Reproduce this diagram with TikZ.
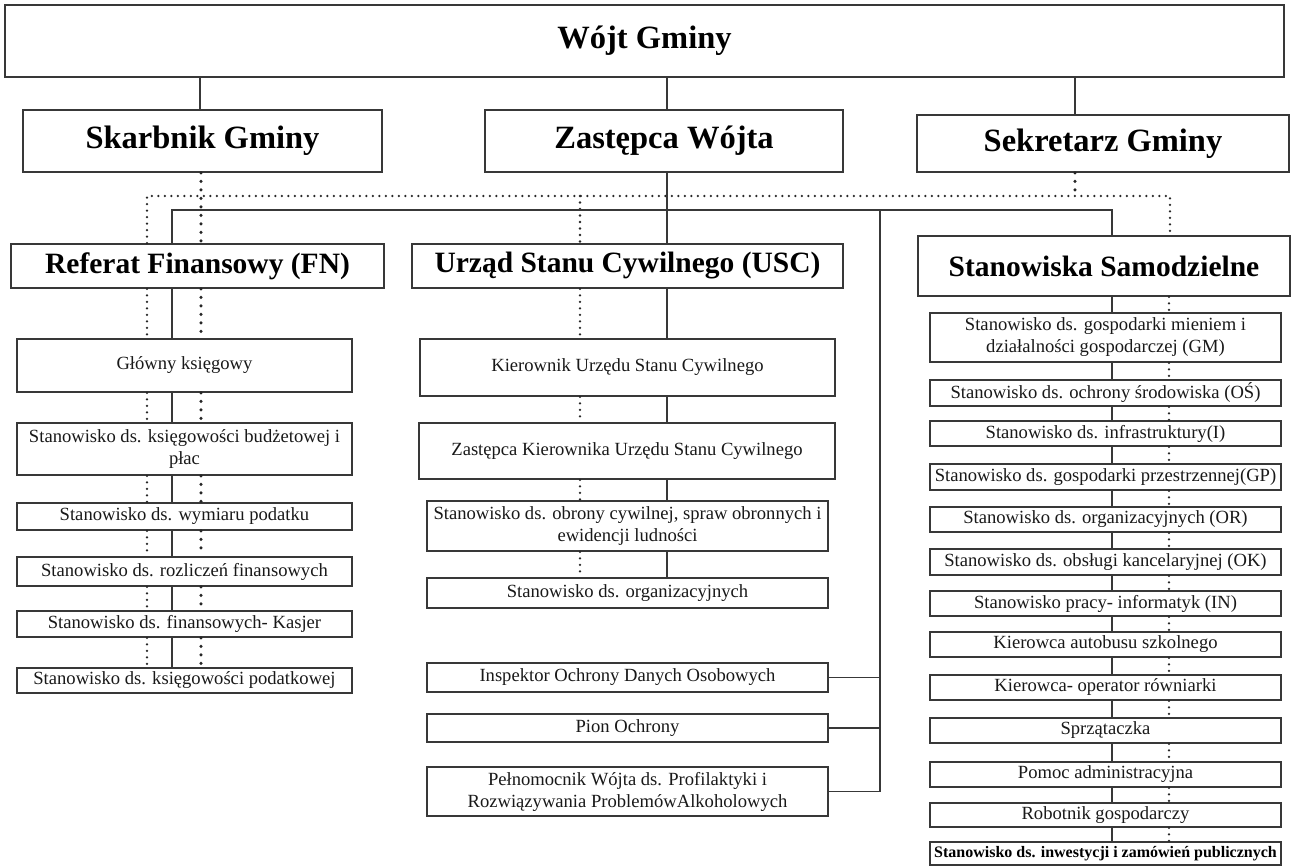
\documentclass[tikz,border=0pt]{standalone}
\usepackage{fontspec}
\setmainfont{Liberation Serif}
\newcommand\bx[7]{\node[#1, minimum width={#5-#3}, minimum height={#6-#4}] (#2) at ({(#3+#5)/2},{(#4+#6)/2}) {#7};}
\tikzset{
  box/.style={draw=black!78, line width=1.8pt, fill=white, inner sep=0pt, align=center, text=black!90},
  lvlA/.style={box, font=\fontsize{32.5}{36}\selectfont\bfseries, text=black},
  lvlB/.style={box, font=\fontsize{29.5}{34}\selectfont\bfseries, text=black},
  small/.style={box, font=\fontsize{18.6}{22}\selectfont},
  smallbold/.style={box, font=\fontsize{16}{19}\selectfont\bfseries, text=black},
  conn/.style={draw=black!78, line width=1.7pt},
  dots/.style={draw=black!85, line width=2.6pt, line cap=round, dash pattern=on 0pt off 6.5pt},
  bigdots/.style={draw=black!85, line width=3.4pt, line cap=round, dash pattern=on 0pt off 8.5pt},
}
\begin{document}
\begin{tikzpicture}[x=1pt,y=-1pt]
\useasboundingbox[fill=white] (0,0) rectangle (1294,867);
% x positions of vertical connectors
\coordinate (xK0) at (200,0);
\coordinate (xZ) at (667,0);
\coordinate (xSe) at (1075,0);
\coordinate (xL) at (147,0);
\coordinate (xS) at (172,0);
\coordinate (xK) at (201,0);
\coordinate (xM) at (580,0);
\coordinate (xR) at (1112,0);
\coordinate (xD) at (1169,0);
\coordinate (dl) at (147,196);
\coordinate (dr) at (1170,196);
\coordinate (sl) at (172,210);
\coordinate (sr) at (1112,210);
\coordinate (sv) at (880,210);

% top levels
\bx{lvlA}{wojt}{5}{5}{1284}{77}{Wójt Gminy}
\bx{lvlA}{skarb}{23}{110}{382}{172}{Skarbnik Gminy}
\bx{lvlA}{zast}{485}{110}{843}{172}{Zastępca Wójta}
\bx{lvlA}{sekr}{917}{115}{1289}{172}{Sekretarz Gminy}
\bx{lvlB}{ref}{11}{244}{384}{288}{Referat Finansowy (FN)}
\bx{lvlB}{usc}{412}{244}{843}{288}{Urząd Stanu Cywilnego (USC)}
\bx{lvlB}{ss}{918}{236}{1290}{296}{Stanowiska Samodzielne}

% left column
\bx{small}{glowny}{17}{339}{352}{392}{Główny księgowy}
\bx{small}{budz}{17}{423}{352}{475}{Stanowisko ds. księgowości budżetowej i\\płac}
\bx{small}{wymiar}{17}{503}{352}{530}{Stanowisko ds. wymiaru podatku}
\bx{small}{rozl}{17}{557}{352}{586}{Stanowisko ds. rozliczeń finansowych}
\bx{small}{kasjer}{17}{611}{352}{637}{Stanowisko ds. finansowych- Kasjer}
\bx{small}{podat}{17}{668}{352}{693}{Stanowisko ds. księgowości podatkowej}

% middle column
\bx{small}{kier}{420}{339}{835}{396}{Kierownik Urzędu Stanu Cywilnego}
\bx{small}{zkier}{419}{423}{835}{479}{Zastępca Kierownika Urzędu Stanu Cywilnego}
\bx{small}{obrony}{427}{501}{828}{551}{Stanowisko ds. obrony cywilnej, spraw obronnych i\\ewidencji ludności}
\bx{small}{orgm}{427}{578}{828}{608}{Stanowisko ds. organizacyjnych}
\bx{small}{insp}{427}{663}{828}{692}{Inspektor Ochrony Danych Osobowych}
\bx{small}{pion}{427}{714}{828}{742}{Pion Ochrony}
\bx{small}{pelno}{427}{767}{828}{816}{Pełnomocnik Wójta ds. Profilaktyki i\\Rozwiązywania ProblemówAlkoholowych}

% right column
\bx{small}{sGM}{930}{313}{1281}{362}{Stanowisko ds. gospodarki mieniem i\\działalności gospodarczej (GM)}
\bx{small}{sOS}{930}{380}{1281}{406}{Stanowisko ds. ochrony środowiska (OŚ)}
\bx{small}{sINF}{930}{421}{1281}{446}{Stanowisko ds. infrastruktury(I)}
\bx{small}{sGP}{930}{464}{1281}{490}{Stanowisko ds. gospodarki przestrzennej(GP)}
\bx{small}{sOR}{930}{507}{1281}{532}{Stanowisko ds. organizacyjnych (OR)}
\bx{small}{sOK}{930}{549}{1281}{575}{Stanowisko ds. obsługi kancelaryjnej (OK)}
\bx{small}{sIN}{930}{591}{1281}{616}{Stanowisko pracy- informatyk (IN)}
\bx{small}{sKA}{930}{632}{1281}{657}{Kierowca autobusu szkolnego}
\bx{small}{sKO}{930}{675}{1281}{700}{Kierowca- operator równiarki}
\bx{small}{sSP}{930}{718}{1281}{743}{Sprzątaczka}
\bx{small}{sPO}{930}{762}{1281}{787}{Pomoc administracyjna}
\bx{small}{sRO}{930}{803}{1281}{827}{Robotnik gospodarczy}
\bx{smallbold}{sIW}{930}{842}{1281}{865}{Stanowisko ds. inwestycji i zamówień publicznych}

% connectors from Wójt
\draw[conn] (wojt.south -| xK0) -- (skarb.north -| xK0);
\draw[conn] (wojt.south -| xZ) -- (zast.north -| xZ);
\draw[conn] (wojt.south -| xSe) -- (sekr.north -| xSe);

% dotted distribution line
\draw[dots] (ref.north -| dl) -- (dl) -- (dr) -- (ss.north -| dr);
\draw[dots] (xM |- dl) -- (usc.north -| xM);
\draw[bigdots] (skarb.south -| xK) -- (ref.north -| xK);
\draw[bigdots] (sekr.south -| xSe) -- (xSe |- dl);

% solid distribution line
\draw[conn] (ref.north -| sl) -- (sl) -- (sr) -- (ss.north -| sr);
\draw[conn] (zast.south -| xZ) -- (usc.north -| xZ);
\draw[conn] (sv) -- (pelno.east -| sv) -- (pelno.east);
\draw[conn] (insp.east) -- (insp.east -| sv);
\draw[conn] (pion.east) -- (pion.east -| sv);

% left column chain
\foreach \a/\b in {ref/glowny, glowny/budz, budz/wymiar, wymiar/rozl, rozl/kasjer, kasjer/podat}{
  \draw[dots] (\a.south -| xL) -- (\b.north -| xL);
  \draw[conn] (\a.south -| xS) -- (\b.north -| xS);
  \draw[bigdots] (\a.south -| xK) -- (\b.north -| xK);
}
% middle column chain
\foreach \a/\b in {usc/kier, kier/zkier, zkier/obrony, obrony/orgm}{
  \draw[dots] (\a.south -| xM) -- (\b.north -| xM);
  \draw[conn] (\a.south -| xZ) -- (\b.north -| xZ);
}
% right column chain
\foreach \a/\b in {ss/sGM, sGM/sOS, sOS/sINF, sINF/sGP, sGP/sOR, sOR/sOK, sOK/sIN, sIN/sKA, sKA/sKO, sKO/sSP, sSP/sPO, sPO/sRO, sRO/sIW}{
  \draw[conn] (\a.south -| xR) -- (\b.north -| xR);
  \draw[dots] (\a.south -| xD) -- (\b.north -| xD);
}
\end{tikzpicture}
\end{document}
